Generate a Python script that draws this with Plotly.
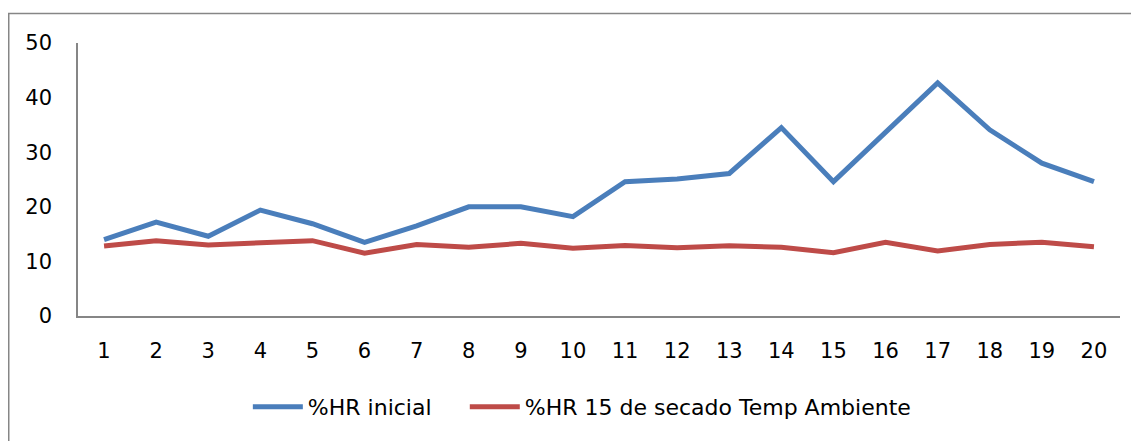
import plotly.graph_objects as go

categories = [str(i) for i in range(1, 21)]
hr_inicial = [14.0, 17.2, 14.6, 19.4, 16.9, 13.5, 16.5, 20.0, 20.0, 18.2,
              24.6, 25.1, 26.1, 34.5, 24.6, 33.6, 42.7, 34.1, 28.0, 24.6]
hr_secado = [12.8, 13.8, 13.0, 13.3, 13.8, 11.5, 13.1, 12.6, 13.3, 12.4,
             12.9, 12.5, 12.85, 12.6, 11.6, 13.5, 11.9, 13.1, 13.5, 12.7]
y_ticks = [0, 10, 20, 30, 40, 50]

FONT = "DejaVu Sans"
fig = go.Figure()
fig.add_trace(go.Scatter(x=categories, y=hr_inicial, mode="lines", name="%HR inicial",
                         line=dict(color="#4A7EBB", width=5), legend="legend"))
fig.add_trace(go.Scatter(x=categories, y=hr_secado, mode="lines",
                         name="%HR 15 de secado Temp Ambiente",
                         line=dict(color="#BE4B48", width=5), legend="legend2"))

leg_common = dict(orientation="h", xanchor="left", y=-0.333, yanchor="middle",
                  font=dict(family=FONT, size=22), itemwidth=50,
                  bgcolor="rgba(0,0,0,0)")

# page body has an 8px margin, so the figure is offset by 8px
fig.update_layout(
    width=1131, height=433,
    margin=dict(l=70, r=19, t=34.5, b=125),
    paper_bgcolor="white", plot_bgcolor="white",
    font=dict(family=FONT, size=21, color="#000000"),
    showlegend=True,
    legend=dict(x=0.163, **leg_common),
    legend2=dict(x=0.3712, **leg_common),
    xaxis=dict(type="category", range=[-0.5, 19.5], showgrid=False, showline=True,
               linecolor="#868686", linewidth=1.5, ticks="", ticklabelstandoff=15,
               tickfont=dict(size=21), zeroline=False),
    yaxis=dict(range=[0, 50], tickvals=y_ticks, showgrid=False, showline=True,
               linecolor="#868686", linewidth=1.5, ticks="", ticklabelstandoff=20,
               tickfont=dict(size=21), zeroline=False),
    shapes=[dict(type="rect", xref="paper", yref="paper", x0=-0.06646, x1=1.05,
                 y0=-0.6, y1=1.1079, line=dict(color="#868686", width=1.5),
                 fillcolor="rgba(0,0,0,0)", layer="below")],
)

fig.write_html("out.html")
